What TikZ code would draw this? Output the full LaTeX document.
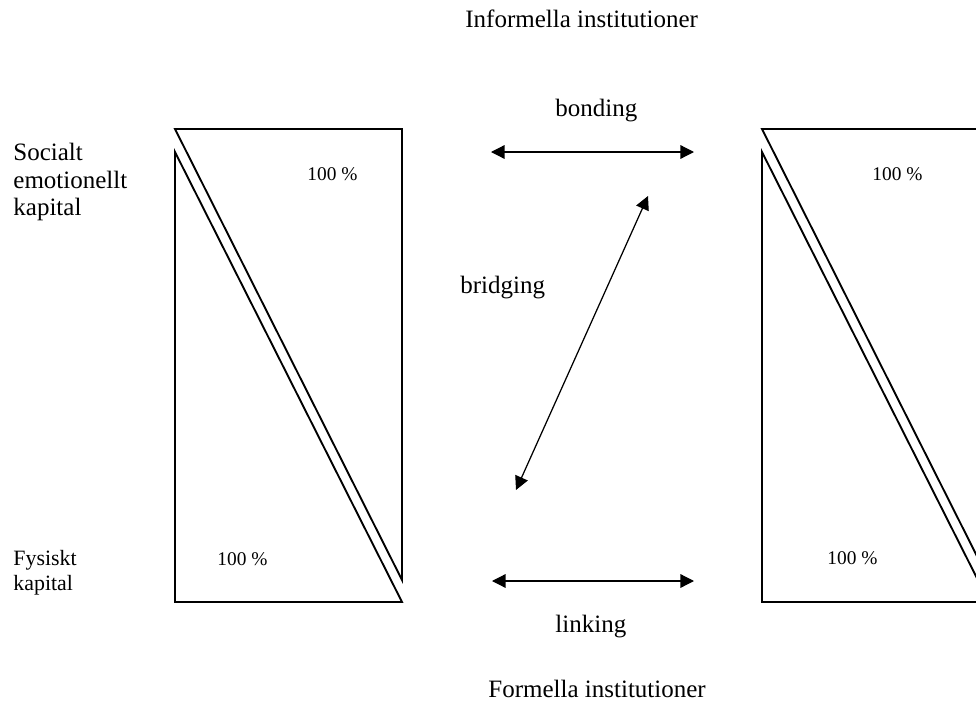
\documentclass[tikz,border=0pt]{standalone}
\usepackage{fontspec}
\setmainfont{Liberation Serif}
\usetikzlibrary{arrows.meta}

\begin{document}
\begin{tikzpicture}[x=0.48pt, y=-0.48pt,
  main text/.style={font=\fontsize{12}{13.2}\selectfont, anchor=base west, inner sep=0pt},
  side text/.style={font=\fontsize{12}{13.2}\selectfont, anchor=north west, inner sep=0pt, align=left},
  small text/.style={font=\fontsize{10.5}{12}\selectfont, anchor=north west, inner sep=0pt, align=left},
  pct text/.style={font=\fontsize{9.3}{11}\selectfont, anchor=base west, inner sep=0pt},
  wedge/.style={draw=black, line width=0.9pt},
  link/.style={{Triangle[length=6.5pt,width=6.5pt]}-{Triangle[length=6.5pt,width=6.5pt]}, line width=0.6pt}]

\useasboundingbox (0,0) rectangle (976,707);

% === titles ===
\node[main text] (informal) at (465,27) {Informella institutioner};
\node[main text] (formal) at (488,697) {Formella institutioner};

% === left axis labels ===
\node[side text] (social) at (13,143) {Socialt\\emotionellt\\kapital};
\node[small text] (physical) at (13,550) {Fysiskt\\kapital};

% === left block ===
\draw[wedge] (175,129) -- (402,129) -- (402,580) -- cycle;
\draw[wedge] (175,152) -- (175,602) -- (402,602) -- cycle;
\node[pct text] (pct_lt) at (307,180) {100 \%};
\node[pct text] (pct_lb) at (217,565) {100 \%};

% === right block ===
\begin{scope}
\clip (0,0) rectangle (976,707);
\draw[wedge] (762,129) -- (989,129) -- (989,580) -- cycle;
\draw[wedge] (762,152) -- (762,602) -- (989,602) -- cycle;
\end{scope}
\node[pct text] (pct_rt) at (872,180) {100 \%};
\node[pct text] (pct_rb) at (827,564) {100 \%};

% === ties ===
\coordinate (bond_l) at (491,152);
\coordinate (bond_r) at (694,152);
\coordinate (link_l) at (492,581);
\coordinate (link_r) at (694,581);
\coordinate (bridge_b) at (516,490);
\coordinate (bridge_t) at (648,196);

\draw[link] (bond_l) -- (bond_r);
\draw[link] (link_l) -- (link_r);
\draw[link] (bridge_b) -- (bridge_t);

\node[main text] (bonding) at (555,116) {bonding};
\node[main text] (bridging) at (460,293) {bridging};
\node[main text] (linking) at (555,632) {linking};

\end{tikzpicture}
\end{document}
